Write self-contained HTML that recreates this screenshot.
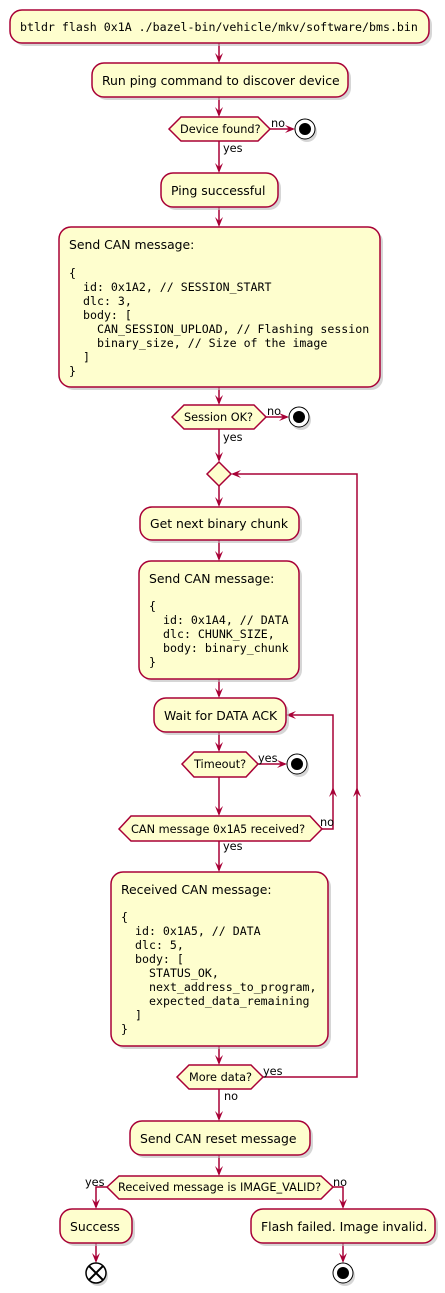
<!DOCTYPE html>
<html><head><meta charset="utf-8"><style>
html,body{margin:0;padding:0;background:#fff}
svg{display:block}
.b{fill:#FEFECE;stroke:#A80036;stroke-width:1.5}
.s{fill:#bbb;opacity:.6}
.l{stroke:#A80036;stroke-width:1.5;fill:none}
.a{fill:#A80036}
text{font-family:"DejaVu Sans","Liberation Sans",sans-serif;font-size:12.4px;fill:#000}
.m{font-family:"DejaVu Sans Mono","Liberation Mono",monospace;font-size:11.6px}
.d{font-size:11.3px}
.lb{font-size:11.3px}
</style></head><body>
<svg width="445" height="1293" viewBox="0 0 445 1293" xmlns="http://www.w3.org/2000/svg">
<g class="l">
<line x1="219" y1="43" x2="219" y2="61"/>
<line x1="219" y1="97" x2="219" y2="115"/>
<line x1="270" y1="129" x2="293" y2="129"/>
<line x1="219" y1="141" x2="219" y2="171"/>
<line x1="219" y1="207" x2="219" y2="225"/>
<line x1="219" y1="387" x2="219" y2="403"/>
<line x1="266" y1="417" x2="287" y2="417"/>
<line x1="219" y1="429" x2="219" y2="460"/>
<line x1="219" y1="486" x2="219" y2="505"/>
<line x1="219" y1="540" x2="219" y2="559"/>
<line x1="219" y1="679" x2="219" y2="696"/>
<line x1="219" y1="732" x2="219" y2="750"/>
<line x1="258" y1="764" x2="285" y2="764"/>
<line x1="219" y1="777" x2="219" y2="814"/>
<polyline points="322,829 333,829 333,715 288,715"/>
<line x1="219" y1="841" x2="219" y2="870"/>
<line x1="219" y1="1046" x2="219" y2="1063"/>
<polyline points="263,1077 357,1077 357,474 233,474"/>
<line x1="219" y1="1089" x2="219" y2="1119"/>
<line x1="219" y1="1155" x2="219" y2="1174"/>
<polyline points="107,1187 96,1187 96,1207"/>
<polyline points="333,1187 343,1187 343,1207"/>
<line x1="96" y1="1243" x2="96" y2="1261"/>
<line x1="343" y1="1243" x2="343" y2="1261"/>
</g>
<g class="a">
<polygon points="215,53 219,63 223,53 219,57"/>
<polygon points="215,107 219,117 223,107 219,111"/>
<polygon points="215,163 219,173 223,163 219,167"/>
<polygon points="215,217 219,227 223,217 219,221"/>
<polygon points="215,395 219,405 223,395 219,399"/>
<polygon points="215,452 219,462 223,452 219,456"/>
<polygon points="215,497 219,507 223,497 219,501"/>
<polygon points="215,551 219,561 223,551 219,555"/>
<polygon points="215,688 219,698 223,688 219,692"/>
<polygon points="215,742 219,752 223,742 219,746"/>
<polygon points="215,806 219,816 223,806 219,810"/>
<polygon points="215,862 219,872 223,862 219,866"/>
<polygon points="215,1055 219,1065 223,1055 219,1059"/>
<polygon points="215,1111 219,1121 223,1111 219,1115"/>
<polygon points="215,1166 219,1176 223,1166 219,1170"/>
<polygon points="92,1199 96,1209 100,1199 96,1203"/>
<polygon points="339,1199 343,1209 347,1199 343,1203"/>
<polygon points="92,1253 96,1263 100,1253 96,1257"/>
<polygon points="339,1253 343,1263 347,1253 343,1257"/>
<polygon points="285,125 295,129 285,133 289,129"/>
<polygon points="279,413 289,417 279,421 283,417"/>
<polygon points="277,760 287,764 277,768 281,764"/>
<polygon points="296,711 286,715 296,719 292,715"/>
<polygon points="241,470 231,474 241,478 237,474"/>
<polygon points="329,797 333,787 337,797 333,793"/>
<polygon points="353,797 357,787 361,797 357,793"/>
</g>
<g class="s">
<rect x="13" y="13" width="419" height="33" rx="12"/>
<rect x="95" y="66" width="256" height="34" rx="12"/>
<rect x="164" y="176" width="117" height="34" rx="12"/>
<rect x="62" y="230" width="321" height="160" rx="12"/>
<rect x="143" y="510" width="159" height="33" rx="12"/>
<rect x="142" y="564" width="160" height="118" rx="12"/>
<rect x="157" y="701" width="132" height="34" rx="12"/>
<rect x="114" y="875" width="217" height="174" rx="12"/>
<rect x="133" y="1124" width="180" height="34" rx="12"/>
<rect x="63" y="1212" width="72" height="34" rx="12"/>
<rect x="254" y="1212" width="184" height="34" rx="12"/>
</g>
<rect class="b" x="10" y="10" width="419" height="33" rx="12"/>
<text class="m" x="20" y="31">btldr flash 0x1A ./bazel-bin/vehicle/mkv/software/bms.bin</text>
<rect class="b" x="92" y="63" width="256" height="34" rx="12"/>
<text x="102" y="85">Run ping command to discover device</text>
<polygon class="b" points="169,129 181,117 258,117 270,129 258,141 181,141"/>
<text class="d" x="180" y="133">Device found?</text>
<text class="lb" x="271" y="127">no</text>
<text class="lb" x="223" y="152">yes</text>
<circle cx="307" cy="132" r="10" fill="#bbb" opacity=".6"/>
<circle cx="305" cy="129" r="10" fill="#fff" stroke="#000" stroke-width="1"/>
<circle cx="305" cy="129" r="6" fill="#000"/>
<rect class="b" x="161" y="173" width="117" height="34" rx="12"/>
<text x="171" y="195">Ping successful</text>
<rect class="b" x="59" y="227" width="321" height="160" rx="12"/>
<text x="69" y="249">Send CAN message:</text>
<text class="m" x="69" y="277">{</text>
<text class="m" x="83" y="291">id: 0x1A2, // SESSION_START</text>
<text class="m" x="83" y="305">dlc: 3,</text>
<text class="m" x="83" y="319">body: [</text>
<text class="m" x="97" y="333">CAN_SESSION_UPLOAD, // Flashing session</text>
<text class="m" x="97" y="347">binary_size, // Size of the image</text>
<text class="m" x="83" y="361">]</text>
<text class="m" x="69" y="375">}</text>
<polygon class="b" points="172,417 184,405 254,405 266,417 254,429 184,429"/>
<text class="d" x="184" y="421">Session OK?</text>
<text class="lb" x="267" y="415">no</text>
<text class="lb" x="223" y="441">yes</text>
<circle cx="301" cy="420" r="10" fill="#bbb" opacity=".6"/>
<circle cx="299" cy="417" r="10" fill="#fff" stroke="#000" stroke-width="1"/>
<circle cx="299" cy="417" r="6" fill="#000"/>
<polygon class="b" points="207,474 219,462 231,474 219,486"/>
<rect class="b" x="140" y="507" width="159" height="33" rx="12"/>
<text x="150" y="528">Get next binary chunk</text>
<rect class="b" x="139" y="561" width="160" height="118" rx="12"/>
<text x="149" y="583">Send CAN message:</text>
<text class="m" x="149" y="610">{</text>
<text class="m" x="163" y="624">id: 0x1A4, // DATA</text>
<text class="m" x="163" y="638">dlc: CHUNK_SIZE,</text>
<text class="m" x="163" y="652">body: binary_chunk</text>
<text class="m" x="149" y="666">}</text>
<rect class="b" x="154" y="698" width="132" height="34" rx="12"/>
<text x="164" y="720">Wait for DATA ACK</text>
<polygon class="b" points="182,764 194,752 246,752 258,764 246,777 194,777"/>
<text class="d" x="194" y="768">Timeout?</text>
<text class="lb" x="258" y="762">yes</text>
<circle cx="299" cy="767" r="10" fill="#bbb" opacity=".6"/>
<circle cx="297" cy="764" r="10" fill="#fff" stroke="#000" stroke-width="1"/>
<circle cx="297" cy="764" r="6" fill="#000"/>
<polygon class="b" points="119,829 131,816 310,816 322,829 310,841 131,841"/>
<text class="d" x="131" y="833">CAN message <tspan class="m" style="font-size:11.3px">0x1A5</tspan> received?</text>
<text class="lb" x="320" y="826">no</text>
<text class="lb" x="223" y="850">yes</text>
<rect class="b" x="111" y="872" width="217" height="174" rx="12"/>
<text x="121" y="894">Received CAN message:</text>
<text class="m" x="121" y="921">{</text>
<text class="m" x="135" y="935">id: 0x1A5, // DATA</text>
<text class="m" x="135" y="949">dlc: 5,</text>
<text class="m" x="135" y="963">body: [</text>
<text class="m" x="149" y="977">STATUS_OK,</text>
<text class="m" x="149" y="991">next_address_to_program,</text>
<text class="m" x="149" y="1005">expected_data_remaining</text>
<text class="m" x="135" y="1019">]</text>
<text class="m" x="121" y="1033">}</text>
<polygon class="b" points="177,1077 189,1065 251,1065 263,1077 251,1089 189,1089"/>
<text class="d" x="189" y="1081">More data?</text>
<text class="lb" x="263" y="1075">yes</text>
<text class="lb" x="224" y="1100">no</text>
<rect class="b" x="130" y="1121" width="180" height="34" rx="12"/>
<text x="140" y="1143">Send CAN reset message</text>
<polygon class="b" points="107,1187 119,1176 321,1176 333,1187 321,1199 119,1199"/>
<text class="d" x="118" y="1191">Received message is IMAGE_VALID?</text>
<text class="lb" x="85" y="1186">yes</text>
<text class="lb" x="333" y="1186">no</text>
<rect class="b" x="60" y="1209" width="72" height="34" rx="12"/>
<text x="70" y="1231">Success</text>
<rect class="b" x="251" y="1209" width="184" height="34" rx="12"/>
<text x="261" y="1231">Flash failed. Image invalid.</text>
<circle cx="98" cy="1276" r="10" fill="#bbb" opacity=".6"/>
<circle cx="96" cy="1273" r="10" fill="#fff" stroke="#000" stroke-width="1.5"/>
<line x1="89" y1="1266" x2="103" y2="1280" stroke="#000" stroke-width="2"/>
<line x1="103" y1="1266" x2="89" y2="1280" stroke="#000" stroke-width="2"/>
<circle cx="345" cy="1276" r="10" fill="#bbb" opacity=".6"/>
<circle cx="343" cy="1273" r="10" fill="#fff" stroke="#000" stroke-width="1"/>
<circle cx="343" cy="1273" r="6" fill="#000"/>
</svg>
</body></html>
